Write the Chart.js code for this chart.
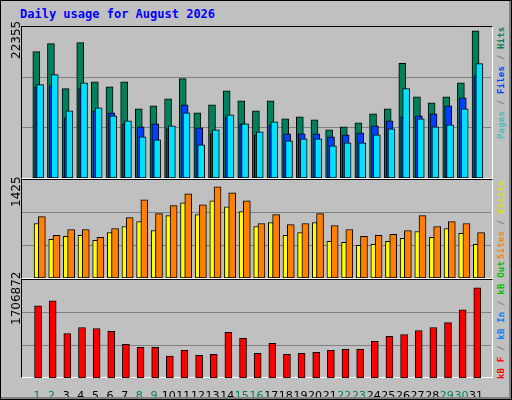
<!DOCTYPE html>
<html>
<head>
<meta charset="utf-8">
<script src="https://cdn.jsdelivr.net/npm/chart.js@4/dist/chart.umd.min.js"></script>
<style>
body { margin:0; background:#fff; }
#wrap { position:relative; width:510px; height:398px; background:#c0c0c0; border:1px solid #000; overflow:hidden; }
#wrap:after { content:""; position:absolute; left:0; top:0; right:0; bottom:0; border-right:2px solid #808080; border-bottom:2px solid #808080; pointer-events:none; }
.title { position:absolute; left:19px; top:6px; font:bold 12px "DejaVu Sans Mono", monospace; color:#0000ff; }
.panel { position:absolute; left:20px; width:470px; border-top:1px solid #000; border-left:1px solid #000; border-right:1px solid #fff; border-bottom:1px solid #fff; }
canvas { position:absolute; }
.vl { position:absolute; transform:rotate(-90deg); transform-origin:left top; white-space:nowrap; }
.ymax { font:12px "DejaVu Sans", sans-serif; color:#000; }
.leg { font:bold 9px "DejaVu Sans Mono", monospace; letter-spacing:0.2px; }
</style>
</head>
<body>
<div id="wrap">
  <div class="title">Daily usage for August 2026</div>
  <div class="panel" style="top:25px;height:151px"></div>
  <div class="panel" style="top:178px;height:98px"></div>
  <div class="panel" style="top:278px;height:97px"></div>
  <canvas id="c1" style="left:21px;top:26px;width:469px;height:151px"></canvas>
  <canvas id="c2" style="left:21px;top:179px;width:469px;height:98px"></canvas>
  <canvas id="c3" style="left:21px;top:279px;width:469px;height:118px"></canvas>
  <div class="vl ymax" style="left:8px;top:58px">22355</div>
  <div class="vl ymax" style="left:8px;top:206px">1425</div>
  <div class="vl ymax" style="left:8px;top:324px">1706872</div>
  <div class="vl leg" style="left:495px;top:138px"><span style="color:#40c0c0">Pages</span> <span style="color:#808080">/</span> <span style="color:#0040ff">Files</span> <span style="color:#808080">/</span> <span style="color:#00805c">Hits</span></div>
  <div class="vl leg" style="left:495px;top:258px"><span style="color:#ff8000">Sites</span> <span style="color:#808080">/</span> <span style="color:#e0e000">Visits</span></div>
  <div class="vl leg" style="left:495px;top:378px"><span style="color:#ff0000">kB F</span> <span style="color:#808080">/</span> <span style="color:#0080ff">kB In</span> <span style="color:#808080">/</span> <span style="color:#00c000">kB Out</span></div>
</div>
<script>
var days = [];
for (var d = 1; d <= 31; d++) days.push(d);
var weekendDays = [1,2,8,9,15,16,22,23,29,30];

var hits  = [19180,20400,13560,20550,14620,13860,14620,10520,10970,12040,15080,9910,11130,13250,11730,10210,11730,9000,9300,8850,7330,7780,8390,9760,10520,17400,12340,11430,12340,14470,22355];
var files = [13860,14010,9150,13560,10210,9910,8240,7780,8240,7480,11130,7630,6720,9300,8240,6570,8090,6720,6720,6720,6260,6570,6870,7930,8690,9300,9450,9760,10970,12190,15530];
var pages = [14170,15690,10210,14470,10670,9450,8690,6260,5810,7930,9910,5050,7330,9610,8240,7020,8540,5650,5960,5960,4890,5350,5350,6570,7480,13560,9000,7780,8090,10520,17360];

var visits = [852,604,651,666,589,712,805,883,743,976,1177,991,1208,1115,1038,805,867,666,712,867,573,558,511,527,573,620,728,635,774,697,527];
var sites  = [960,666,759,759,635,774,945,1224,1007,1131,1317,1146,1425,1332,1208,852,991,836,852,1007,821,759,651,666,682,743,976,805,883,852,712];

var kbytes = [1369000,1463000,844000,957000,938000,882000,638000,581000,581000,413000,525000,431000,450000,863000,750000,469000,656000,450000,469000,488000,525000,544000,544000,694000,788000,825000,900000,957000,1050000,1294000,1706872];

function pts(vals, off) {
	return vals.map(function(v, i) { return {x: days[i] + off, y: v}; });
}

function bars(vals, off, color, w) {
	return {data: pts(vals, off), backgroundColor: color, borderColor: "#000", borderWidth: 1,
		borderSkipped: false, barThickness: w, grouped: false};
}

function makeChart(id, datasets, max, showX) {
	var xAxis = {
		type: "linear", min: 0.5, max: 31.5, display: showX,
		grid: {display: false}, border: {display: false},
		afterBuildTicks: function(a) { a.ticks = days.map(function(d) { return {value: d}; }); },
		ticks: {
			autoSkip: false, maxRotation: 0, padding: 4,
			font: {family: "DejaVu Sans", size: 11},
			color: function(c) { return weekendDays.indexOf(c.tick.value) >= 0 ? "#008060" : "#000"; }
		}
	};
	if (showX) xAxis.afterFit = function(a) { a.height = 20; };
	return new Chart(document.getElementById(id), {
		type: "bar",
		data: {datasets: datasets},
		options: {
			animation: false, responsive: false, maintainAspectRatio: false,
			devicePixelRatio: 1,
			layout: {padding: 0},
			plugins: {legend: {display: false}, tooltip: {enabled: false}},
			scales: {
				x: xAxis,
				y: {
					min: 0, max: max,
					afterBuildTicks: function(a) { a.ticks = [{value: max/3}, {value: 2*max/3}]; },
					afterFit: function(a) { a.width = 0; },
					ticks: {display: false},
					border: {display: false},
					grid: {color: "#808080", lineWidth: 1, drawTicks: false}
				}
			}
		}
	});
}

var c1 = document.getElementById("c1"); c1.width = 469; c1.height = 151;
var c2 = document.getElementById("c2"); c2.width = 469; c2.height = 98;
var c3 = document.getElementById("c3"); c3.width = 469; c3.height = 118;

makeChart("c1", [
	bars(pages, 0.22, "#00e0ff", 7),
	bars(files, 0.09, "#0040ff", 7),
	bars(hits, -0.04, "#00805c", 7)
], 22930, false);

makeChart("c2", [
	bars(sites, 0.34, "#ff8000", 7),
	bars(visits, -0.02, "#ffff00", 5)
], 1533, false);

makeChart("c3", [
	bars(kbytes, 0.08, "#ff0000", 7)
], 1856900, true);
</script>
</body>
</html>
